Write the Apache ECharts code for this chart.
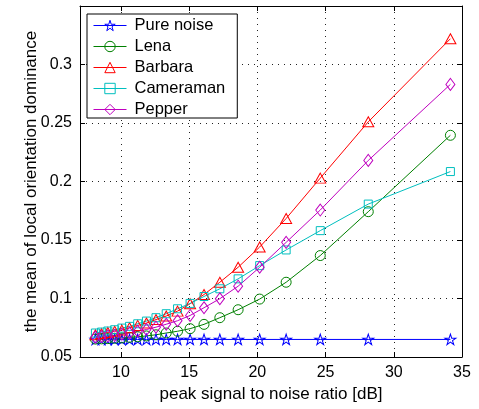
<!DOCTYPE html>
<html>
<head>
<meta charset="utf-8">
<script src="https://cdn.jsdelivr.net/npm/echarts@6/dist/echarts.min.js"></script>
<style>
html,body{margin:0;padding:0;background:#fff;}
#chart{width:479px;height:409px;}
</style>
</head>
<body>
<div id="chart"></div>
<script>
// ---- data ----
var psnr = [8.13, 8.58, 9.04, 9.54, 10.07, 10.63, 11.23, 11.87, 12.57, 13.32, 14.15, 15.07, 16.09, 17.25, 18.59, 20.17, 22.11, 24.61, 28.13, 34.15];
var pureNoise = [0.065, 0.065, 0.065, 0.065, 0.065, 0.065, 0.065, 0.065, 0.065, 0.065, 0.065, 0.065, 0.065, 0.065, 0.065, 0.065, 0.065, 0.065, 0.065, 0.065];
var lena = [0.0653, 0.0655, 0.0657, 0.066, 0.0663, 0.0668, 0.0673, 0.068, 0.069, 0.0705, 0.072, 0.0742, 0.0779, 0.0836, 0.0904, 0.0995, 0.1139, 0.1367, 0.1742, 0.2395];
var barbara = [0.069, 0.070, 0.071, 0.072, 0.073, 0.075, 0.077, 0.079, 0.082, 0.085, 0.0892, 0.0955, 0.1034, 0.1139, 0.1267, 0.144, 0.1684, 0.2029, 0.251, 0.322];
var cameraman = [0.0705, 0.0713, 0.0722, 0.0733, 0.0747, 0.0762, 0.0784, 0.0807, 0.0836, 0.087, 0.0912, 0.0958, 0.1017, 0.1083, 0.1168, 0.1281, 0.1415, 0.158, 0.1807, 0.2085];
var pepper = [0.067, 0.0675, 0.068, 0.0685, 0.0695, 0.0705, 0.072, 0.0735, 0.0755, 0.078, 0.081, 0.0855, 0.0921, 0.0998, 0.1105, 0.1267, 0.148, 0.1756, 0.218, 0.283];
var seriesNames = ['Pure noise', 'Lena', 'Barbara', 'Cameraman', 'Pepper'];
var seriesColors = ['#0000ff', '#008000', '#ff0000', '#00bfbf', '#bf00bf'];
var xTicks = [10, 15, 20, 25, 30, 35];

var FONT = '"Liberation Sans", Arial, Helvetica, sans-serif';
var starPath = 'path://M0,-1L0.2245,-0.309L0.951,-0.309L0.363,0.118L0.588,0.809L0,0.382L-0.588,0.809L-0.363,0.118L-0.951,-0.309L-0.2245,-0.309Z';

function pairs(xs, ys) {
  var out = [];
  for (var i = 0; i < xs.length; i++) out.push([xs[i], ys[i]]);
  return out;
}

function mk(name, ys, color, symbol, size) {
  return {
    name: name,
    type: 'line',
    data: pairs(psnr, ys),
    symbol: symbol,
    symbolSize: size,
    showSymbol: true,
    animation: false,
    lineStyle: { color: color, width: 1 },
    itemStyle: { color: 'rgba(0,0,0,0)', borderColor: color, borderWidth: 1 },
    emphasis: { disabled: true },
    z: 3
  };
}

var legendData = seriesNames.map(function (n, i) {
  return {
    name: n,
    itemStyle: { color: 'rgba(0,0,0,0)', borderColor: seriesColors[i], borderWidth: 1 },
    lineStyle: { color: seriesColors[i], width: 1 }
  };
});

var chart = echarts.init(document.getElementById('chart'), null, { renderer: 'canvas' });

var gridLine = { show: true, lineStyle: { color: '#222', width: 1, type: [1, 5] } };

var option = {
  backgroundColor: '#fff',
  animation: false,
  textStyle: { fontFamily: FONT },
  grid: { left: 80, top: 6, width: 382, height: 351, containLabel: false, show: false },
  legend: {
    data: legendData,
    orient: 'vertical',
    left: 87,
    top: 14,
    itemWidth: 33,
    itemHeight: 13,
    itemGap: 4,
    padding: [3, 12, 0, 6],
    borderColor: '#000',
    borderWidth: 1,
    backgroundColor: '#fff',
    selectedMode: false,
    textStyle: { fontFamily: FONT, fontSize: 16.5, color: '#000', lineHeight: 16, padding: [0, 0, 0, 3] }
  },
  xAxis: [
    {
      type: 'value', min: 7, max: 35, position: 'bottom',
      name: 'peak signal to noise ratio [dB]', nameLocation: 'middle', nameGap: 29,
      nameMoveOverlap: false,
      nameTextStyle: { fontFamily: FONT, fontSize: 17, color: '#000' },
      axisLine: { show: true, onZero: false, lineStyle: { color: '#000', width: 1 } },
      axisTick: { show: true, inside: true, length: 5, customValues: xTicks, lineStyle: { color: '#000' } },
      axisLabel: { show: true, customValues: xTicks, margin: 8, fontFamily: FONT, fontSize: 16, color: '#000' },
      splitLine: gridLine
    },
    {
      type: 'value', min: 7, max: 35, position: 'top',
      axisLine: { show: true, onZero: false, lineStyle: { color: '#000', width: 1 } },
      axisTick: { show: true, inside: true, length: 5, customValues: xTicks, lineStyle: { color: '#000' } },
      axisLabel: { show: false },
      splitLine: { show: false }
    }
  ],
  yAxis: [
    {
      type: 'value', min: 0.05, max: 0.35, interval: 0.05, position: 'left',
      name: 'the mean of local orientation dominance', nameLocation: 'middle', nameGap: 40,
      nameMoveOverlap: false,
      nameTextStyle: { fontFamily: FONT, fontSize: 17, color: '#000' },
      axisLine: { show: true, onZero: false, lineStyle: { color: '#000', width: 1 } },
      axisTick: { show: true, inside: true, length: 5, lineStyle: { color: '#000' } },
      axisLabel: {
        show: true, margin: 8, fontFamily: FONT, fontSize: 16, color: '#000',
        formatter: function (v) { return v > 0.34 ? '' : String(+v.toFixed(2)); }
      },
      splitLine: gridLine
    },
    {
      type: 'value', min: 0.05, max: 0.35, interval: 0.05, position: 'right',
      axisLine: { show: true, onZero: false, lineStyle: { color: '#000', width: 1 } },
      axisTick: { show: true, inside: true, length: 5, lineStyle: { color: '#000' } },
      axisLabel: { show: false },
      splitLine: { show: false }
    }
  ],
  series: [
    mk('Pure noise', pureNoise, seriesColors[0], starPath, [11, 10.5]),
    mk('Lena', lena, seriesColors[1], 'circle', 10),
    mk('Barbara', barbara, seriesColors[2], 'triangle', [11, 10]),
    mk('Cameraman', cameraman, seriesColors[3], 'rect', 8),
    mk('Pepper', pepper, seriesColors[4], 'diamond', [9, 12])
  ]
};

chart.setOption(option);
</script>
</body>
</html>
